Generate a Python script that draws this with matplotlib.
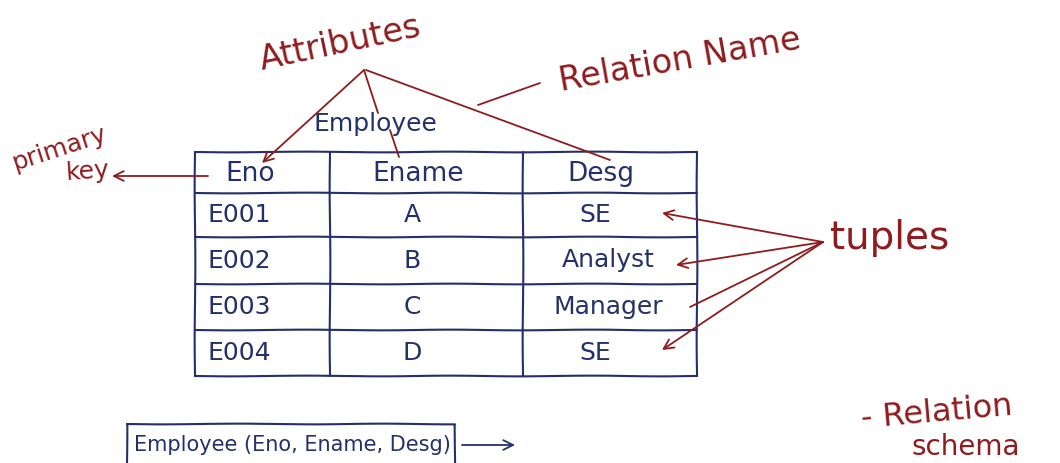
import matplotlib
matplotlib.use("Agg")
import matplotlib.pyplot as plt

# table content
columns = ["Eno", "Ename", "Desg"]
eno = ["E001", "E002", "E003", "E004"]
ename = ["A", "B", "C", "D"]
desg = ["SE", "Analyst", "Manager", "SE"]
relation_name = "Employee"
schema_text = "Employee (Eno, Ename, Desg)"

BLUE = "#24306a"
RED = "#8e1c1f"
FONT = "DejaVu Sans"

fig = plt.figure(figsize=(10.6, 4.63), dpi=100)
ax = fig.add_axes([0, 0, 1, 1])
ax.set_xlim(0, 1060)
ax.set_ylim(463, 0)
ax.axis("off")


def ink(xs, ys, color=BLUE, lw=1.5, wobble=True):
    ln, = ax.plot(xs, ys, color=color, lw=lw, solid_capstyle="round")
    if wobble:
        ln.set_sketch_params(scale=0.35, length=160, randomness=2)


def arrow(x0, y0, x1, y1, color=RED, lw=1.3, head=True):
    style = "->,head_length=0.7,head_width=0.35" if head else "-"
    ax.annotate("", xy=(x1, y1), xytext=(x0, y0),
                arrowprops=dict(arrowstyle=style, color=color, lw=lw,
                                shrinkA=0, shrinkB=0))


def write(x, y, s, size, color=BLUE, rot=0, ha="center"):
    ax.text(x, y, s, fontsize=size, color=color, rotation=rot, ha=ha,
            va="center", family=FONT, rotation_mode="anchor")


# --- table grid
left, right = 195, 697
row_y = [152, 193, 237, 284, 330, 376]
col_x = [left, 330, 523, right]
for y in row_y:
    ink([left, right], [y, y])
for x in col_x:
    ink([x, x], [row_y[0], row_y[-1]])

# header + rows
col_centers = [250, 418, 601]
for cx, name in zip(col_centers, columns):
    write(cx, 174, name, 19)
for i in range(len(eno)):
    cy = (row_y[i + 1] + row_y[i + 2]) / 2
    write(208, cy, eno[i], 18, ha="left")
    write(col_centers[1] - 6, cy, ename[i], 18)
    write(595 if desg[i] == "SE" else 608, cy, desg[i], 18)

write(375, 124, relation_name, 18)

# --- attributes callout
write(340, 44, "Attributes", 24, color=RED, rot=12)
arrow(364, 70, 262, 163)
ink([364, 378], [70, 113], color=RED, lw=1.3, wobble=False)
ink([390, 399], [130, 157], color=RED, lw=1.3, wobble=False)
ink([366, 610], [70, 160], color=RED, lw=1.3, wobble=False)

# relation name
write(680, 60, "Relation Name", 24, color=RED, rot=10)
ink([478, 540], [105, 83], color=RED, lw=1.3, wobble=False)

# primary key
write(60, 148, "primary", 18, color=RED, rot=18)
write(88, 172, "key", 18, color=RED, rot=4)
arrow(208, 176, 112, 176)

# tuples
write(890, 238, "tuples", 28, color=RED)
tip = (823, 242)
arrow(*tip, 662, 213)
arrow(*tip, 676, 265)
arrow(*tip, 690, 307, head=False)
arrow(*tip, 662, 350)

# --- relation schema box
ink([127, 455, 455, 127, 127], [424, 424, 470, 470, 424])
write(292, 445, schema_text, 15)
arrow(462, 445, 515, 445, color=BLUE)
write(937, 413, "- Relation", 23, color=RED, rot=5)
write(966, 447, "schema", 20, color=RED)

fig.savefig("out.png", dpi=100)
